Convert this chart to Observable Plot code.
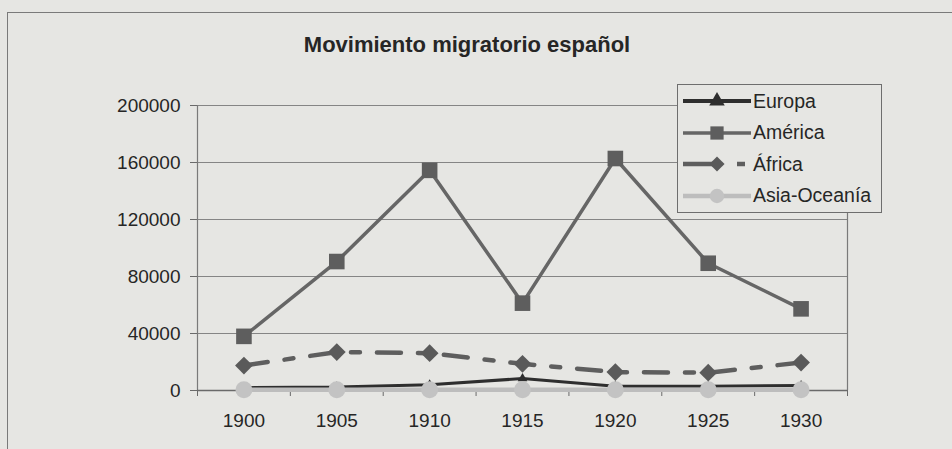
<!DOCTYPE html>
<html>
<head>
<meta charset="utf-8">
<script src="https://cdn.jsdelivr.net/npm/d3@7"></script>
<script src="https://cdn.jsdelivr.net/npm/@observablehq/plot@0.6"></script>
<style>
  html, body { margin: 0; padding: 0; background: #e6e6e3; }
  #wrap { position: relative; width: 952px; height: 449px; overflow: hidden; font-family: "Liberation Sans", Arial, sans-serif; color: #262626; }
  #outer { position: absolute; left: 7px; top: 12px; width: 1000px; height: 500px; border: 1px solid #7a7a7a; box-sizing: border-box; }
  #title { position: absolute; left: 0; width: 934px; top: 32px; text-align: center; font-weight: bold; font-size: 22px; line-height: 25px; }
  #chart { position: absolute; left: 0; top: 0; }
  #legend { position: absolute; left: 677px; top: 84px; width: 205px; height: 129px; border: 1px solid #6e6e6e; box-sizing: border-box; background: #e6e6e3; }
  .item { position: absolute; left: 5px; height: 24px; display: flex; align-items: center; font-size: 19.5px; white-space: nowrap; }
  .item svg { display: block; margin-right: 2px; }
</style>
</head>
<body>
<div id="wrap">
  <div id="outer"></div>
  <div id="chart"></div>
  <div id="title">Movimiento migratorio español</div>
  <div id="legend"></div>
</div>
<script>
// ---- data ----
const years = [1900, 1905, 1910, 1915, 1920, 1925, 1930];
const europa = [2000, 2500, 4000, 8400, 3000, 3000, 3500];
const america = [38000, 90500, 154500, 61300, 162800, 89300, 57300];
const africa = [17500, 27000, 26200, 18700, 12900, 12500, 19600];
const asiaOceania = [500, 500, 500, 500, 500, 500, 500];
const seriesNames = ["Europa", "América", "África", "Asia-Oceanía"];
const yTicks = [0, 40000, 80000, 120000, 160000, 200000];

const seriesValues = [europa, america, africa, asiaOceania];
const rows = [];
seriesNames.forEach((name, i) => years.forEach((yr, j) => rows.push({serie: name, year: yr, value: seriesValues[i][j]})));
const bySerie = name => rows.filter(r => r.serie === name);

const style = {
  "Europa": {stroke: "#2e2e2e", width: 3, symbol: "triangle", r: 3.6, fill: "#2e2e2e", dash: null},
  "América": {stroke: "#666666", width: 3.5, symbol: "square", r: 8.8, fill: "#5e5e5e", dash: null},
  "África": {stroke: "#5e5e5e", width: 4.5, symbol: "diamond2", r: 8, fill: "#5a5a5a", dash: "24,17,9,17"},
  "Asia-Oceanía": {stroke: "#bdbdbd", width: 4.5, symbol: "circle", r: 8.5, fill: "#c3c3c3", dash: null}
};
const d3Symbols = {triangle: d3.symbolTriangle, square: d3.symbolSquare, diamond2: d3.symbolDiamond2, circle: d3.symbolCircle};

const step = years[1] - years[0];
const boundaries = [...years.map(y => y - step / 2), years[years.length - 1] + step / 2];

const marks = [
  Plot.ruleY(yTicks, {y: d => d, stroke: "#858585", strokeWidth: 1}),
  Plot.ruleX([boundaries[0], boundaries[boundaries.length - 1]], {x: d => d, stroke: "#7a7a7a", strokeWidth: 1.2}),
  Plot.ruleY([0], {y: d => d, stroke: "#6a6a6a", strokeWidth: 1.5}),
  Plot.axisY({ticks: yTicks, tickSize: 7, tickPadding: 10, tickFormat: d3.format("d"), label: null, stroke: "#6a6a6a"}),
  Plot.axisX({ticks: boundaries, tickSize: 6, tickFormat: () => "", label: null, stroke: "#6a6a6a"}),
  Plot.axisX({ticks: years, tickSize: 0, tickPadding: 23, tickFormat: d => String(d), label: null})
];
for (const name of seriesNames) {
  const s = style[name];
  marks.push(Plot.line(bySerie(name), {x: "year", y: "value", stroke: s.stroke, strokeWidth: s.width, strokeDasharray: s.dash, strokeLinejoin: "miter"}));
  marks.push(Plot.dot(bySerie(name), {x: "year", y: "value", symbol: () => s.symbol, r: s.r, fill: s.fill, stroke: "none"}));
}

const chart = Plot.plot({
  width: 952, height: 449,
  marginLeft: 197, marginRight: 105, marginTop: 105, marginBottom: 59,
  style: {background: "transparent", fontFamily: "Liberation Sans, Arial, sans-serif", fontSize: "19px", color: "#262626"},
  x: {type: "linear", domain: [boundaries[0], boundaries[boundaries.length - 1]]},
  y: {domain: [0, 200000]},
  symbol: {type: "identity"},
  marks
});
document.getElementById("chart").appendChild(chart);

// ---- legend ----
const legend = document.getElementById("legend");
const symbolPath = (sym, r) => d3.symbol(d3Symbols[sym], r * r * Math.PI)();
seriesNames.forEach((name, i) => {
  const s = style[name];
  const item = document.createElement("div");
  item.className = "item";
  item.style.top = (4 + i * 31.5) + "px";
  const w = 68;
  const svg = d3.create("svg").attr("width", w).attr("height", 24);
  if (name === "África") {
    svg.append("line").attr("x1", 0).attr("x2", 34).attr("y1", 12).attr("y2", 12).attr("stroke", s.stroke).attr("stroke-width", s.width);
    svg.append("line").attr("x1", 54).attr("x2", 62).attr("y1", 12).attr("y2", 12).attr("stroke", s.stroke).attr("stroke-width", s.width);
    svg.append("path").attr("transform", "translate(34,12)").attr("d", symbolPath(s.symbol, s.r * 0.85)).attr("fill", s.fill);
  } else {
    svg.append("line").attr("x1", 0).attr("x2", w).attr("y1", 12).attr("y2", 12).attr("stroke", s.stroke).attr("stroke-width", name === "Europa" ? 4 : s.width);
    svg.append("path").attr("transform", `translate(${w / 2},12)`).attr("d", symbolPath(s.symbol, s.r * (name === "Europa" ? 1.6 : 0.85))).attr("fill", s.fill);
  }
  item.appendChild(svg.node());
  const t = document.createElement("span");
  t.textContent = name;
  item.appendChild(t);
  legend.appendChild(item);
});
</script>
</body>
</html>
